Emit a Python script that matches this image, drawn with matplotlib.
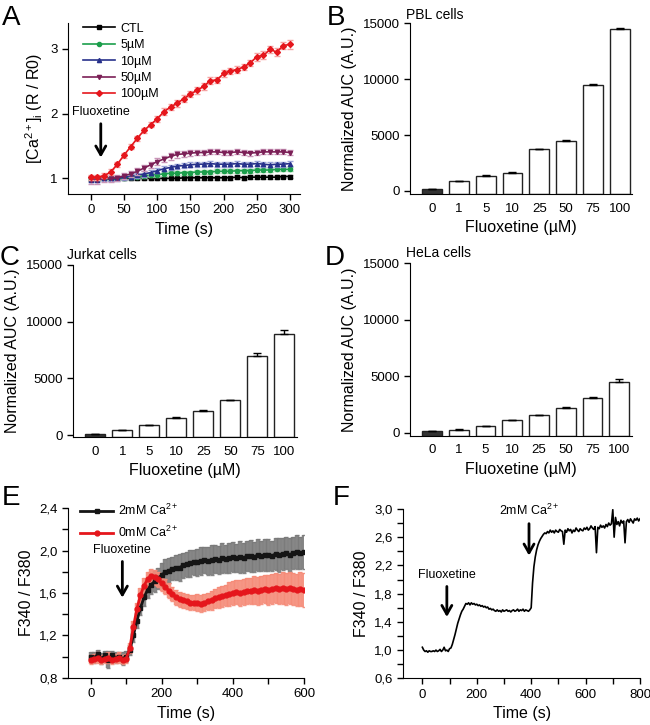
import numpy as np
import matplotlib
matplotlib.use("Agg")
import matplotlib.pyplot as plt

plt.rcParams['font.family'] = ['Liberation Sans', 'DejaVu Sans']
plt.rcParams['mathtext.fontset'] = 'custom'
plt.rcParams['mathtext.rm'] = 'Liberation Sans'
plt.rcParams['mathtext.it'] = 'Liberation Sans:italic'

# ---- panel A: time course per dose ----
t_a = list(range(0, 301, 10))
ctl = [0.99, 0.99, 1.00, 0.99, 1.00, 1.00, 1.00, 1.00, 1.00, 1.00, 1.00, 1.00, 1.00, 1.00, 1.01, 1.01,
       1.01, 1.01, 1.01, 1.01, 1.01, 1.01, 1.02, 1.01, 1.02, 1.02, 1.02, 1.02, 1.02, 1.03, 1.03]
d5 = [1.00, 0.99, 1.00, 1.00, 1.00, 1.01, 1.02, 1.03, 1.04, 1.05, 1.06, 1.07, 1.08, 1.08, 1.09, 1.09,
      1.10, 1.10, 1.10, 1.11, 1.11, 1.11, 1.12, 1.12, 1.12, 1.13, 1.13, 1.13, 1.14, 1.14, 1.14]
d10 = [0.98, 0.98, 1.00, 1.00, 1.00, 1.02, 1.03, 1.05, 1.07, 1.09, 1.12, 1.15, 1.17, 1.19, 1.20, 1.21,
       1.22, 1.22, 1.23, 1.22, 1.22, 1.22, 1.23, 1.22, 1.22, 1.23, 1.22, 1.21, 1.22, 1.22, 1.23]
d50 = [0.97, 0.97, 1.00, 1.00, 1.01, 1.04, 1.07, 1.11, 1.16, 1.21, 1.26, 1.30, 1.34, 1.37, 1.38, 1.39,
       1.40, 1.40, 1.41, 1.41, 1.40, 1.40, 1.41, 1.40, 1.39, 1.40, 1.41, 1.41, 1.41, 1.41, 1.40]
d100 = [1.02, 1.02, 1.04, 1.10, 1.22, 1.36, 1.49, 1.62, 1.74, 1.83, 1.92, 2.03, 2.10, 2.16, 2.23, 2.30,
        2.36, 2.42, 2.51, 2.52, 2.62, 2.66, 2.68, 2.72, 2.78, 2.88, 2.90, 2.99, 2.95, 3.05, 3.07]
err_ctl = [0.03] * 31
err_d5 = [0.03] * 31
err_d10 = [0.04] * 31
err_d50 = [0.06, 0.06, 0.06, 0.05, 0.05, 0.05, 0.05, 0.05, 0.05, 0.05, 0.05, 0.05, 0.05, 0.05, 0.05, 0.05,
           0.04, 0.04, 0.04, 0.04, 0.04, 0.04, 0.04, 0.04, 0.04, 0.04, 0.04, 0.04, 0.04, 0.04, 0.04]
err_d100 = [0.04, 0.04, 0.04, 0.04, 0.04, 0.04, 0.04, 0.04, 0.04, 0.04, 0.05, 0.05, 0.05, 0.05, 0.05, 0.05,
            0.05, 0.05, 0.05, 0.05, 0.05, 0.05, 0.05, 0.05, 0.05, 0.06, 0.06, 0.06, 0.06, 0.06, 0.07]

# ---- panels B-D: AUC bars ----
doses = ['0', '1', '5', '10', '25', '50', '75', '100']
auc_pbl = [150, 900, 1370, 1640, 3720, 4480, 9460, 14480]
err_pbl = [0, 20, 20, 20, 30, 40, 100, 90]
auc_jurkat = [130, 410, 890, 1510, 2130, 3050, 7010, 8900]
err_jurkat = [0, 20, 30, 40, 50, 70, 240, 330]
auc_hela = [130, 270, 590, 1100, 1540, 2220, 3050, 4480]
err_hela = [0, 20, 30, 40, 50, 70, 150, 240]

# ---- panel E: 2mM vs 0mM Ca2+ ----
t_e = list(range(0, 601, 10))
ca2 = [1.00, 0.99, 1.02, 0.98, 1.01, 0.97, 1.01, 0.99, 1.00, 0.98, 1.00, 1.06, 1.20, 1.34, 1.46, 1.56,
       1.63, 1.68, 1.71, 1.74, 1.77, 1.80, 1.81, 1.83, 1.84, 1.84, 1.86, 1.87, 1.88, 1.89, 1.89, 1.90,
       1.91, 1.90, 1.91, 1.92, 1.91, 1.93, 1.92, 1.93, 1.94, 1.93, 1.94, 1.93, 1.95, 1.95, 1.94, 1.96,
       1.95, 1.96, 1.96, 1.95, 1.97, 1.96, 1.97, 1.98, 1.96, 1.98, 1.99, 1.98, 1.99]
err_ca2 = [0.04, 0.05, 0.04, 0.05, 0.04, 0.08, 0.04, 0.05, 0.04, 0.06, 0.05, 0.05, 0.06, 0.07, 0.07, 0.08,
           0.08, 0.09, 0.10, 0.10, 0.11, 0.12, 0.12, 0.11, 0.12, 0.13, 0.12, 0.12, 0.13, 0.12, 0.13, 0.13,
           0.12, 0.13, 0.14, 0.13, 0.13, 0.14, 0.13, 0.14, 0.14, 0.13, 0.15, 0.14, 0.14, 0.15, 0.14, 0.15,
           0.14, 0.15, 0.15, 0.14, 0.15, 0.16, 0.15, 0.15, 0.16, 0.15, 0.16, 0.15, 0.16]
ca0 = [0.97, 0.98, 0.99, 0.97, 0.98, 0.99, 0.97, 0.98, 0.99, 0.97, 0.98, 1.08, 1.28, 1.45, 1.58, 1.67,
       1.73, 1.76, 1.75, 1.73, 1.69, 1.66, 1.62, 1.59, 1.56, 1.54, 1.53, 1.52, 1.51, 1.51, 1.51, 1.50,
       1.51, 1.52, 1.53, 1.55, 1.56, 1.57, 1.58, 1.59, 1.60, 1.61, 1.60, 1.61, 1.62, 1.62, 1.63, 1.62,
       1.63, 1.64, 1.63, 1.64, 1.65, 1.64, 1.65, 1.64, 1.65, 1.64, 1.63, 1.64, 1.63]
err_ca0 = [0.04, 0.04, 0.05, 0.04, 0.04, 0.05, 0.04, 0.04, 0.05, 0.04, 0.04, 0.05, 0.06, 0.06, 0.07, 0.07,
           0.07, 0.07, 0.07, 0.07, 0.07, 0.07, 0.07, 0.07, 0.07, 0.07, 0.07, 0.07, 0.07, 0.07, 0.08, 0.08,
           0.08, 0.08, 0.09, 0.09, 0.10, 0.10, 0.10, 0.11, 0.11, 0.11, 0.12, 0.12, 0.12, 0.12, 0.13, 0.13,
           0.13, 0.13, 0.14, 0.14, 0.14, 0.14, 0.15, 0.15, 0.15, 0.15, 0.15, 0.16, 0.16]

# ---- panel F: single trace ----
t_f = list(range(0, 801, 5))
ratio_f = [1.04, 1.00, 0.98, 0.99, 0.97, 0.99, 0.98, 0.98, 0.99, 0.98, 1.00, 0.98, 0.99, 1.01, 0.98, 1.00,
           1.04, 0.99, 1.00, 0.98, 1.02,
           1.03, 1.08, 1.15, 1.22, 1.30, 1.38, 1.44, 1.50, 1.55, 1.58, 1.62, 1.66, 1.65, 1.67, 1.64, 1.67,
           1.65, 1.66, 1.64,
           1.65, 1.63, 1.64, 1.62, 1.63, 1.61, 1.62, 1.60, 1.61, 1.58, 1.59, 1.57, 1.58, 1.56, 1.55, 1.57,
           1.55, 1.56, 1.54, 1.57, 1.55, 1.56, 1.57, 1.55, 1.56, 1.54, 1.56, 1.57, 1.55, 1.56, 1.58, 1.55,
           1.57, 1.56, 1.58, 1.55, 1.57, 1.56, 1.55, 1.57,
           1.60, 1.95, 2.18, 2.32, 2.42, 2.49, 2.54, 2.58, 2.61, 2.64, 2.66, 2.65, 2.68, 2.66, 2.70, 2.67,
           2.69, 2.66, 2.70, 2.68, 2.67, 2.71, 2.69, 2.68, 2.50, 2.70, 2.67, 2.72, 2.69, 2.71, 2.66, 2.70,
           2.68, 2.73, 2.70, 2.68, 2.72, 2.70, 2.69, 2.73,
           2.71, 2.74, 2.70, 2.72, 2.76, 2.73, 2.71, 2.75, 2.38, 2.74, 2.72, 2.77, 2.74, 2.76, 2.73, 2.78,
           2.75, 2.80, 2.77, 2.79,
           2.99, 2.60, 2.88, 2.78, 2.82, 2.76, 2.84, 2.80, 2.83, 2.52, 2.82, 2.85, 2.81, 2.86, 2.83, 2.80,
           2.86, 2.84, 2.87, 2.83, 2.86]

TICK = 9.5
LAB = 11.5
ARROW = dict(arrowstyle='->,head_length=0.7,head_width=0.4', lw=2, color='black')


def style(ax):
    ax.spines['top'].set_visible(False)
    ax.spines['right'].set_visible(False)
    ax.tick_params(direction='out', length=4, width=1, labelsize=TICK)


fig = plt.figure(figsize=(6.5, 7.25), dpi=100)

# A
ax = fig.add_axes([0.105, 0.7324, 0.3565, 0.236])
series = [
    ('CTL', ctl, err_ctl, 'black', '#9a9a9a', 's'),
    ('5µM', d5, err_d5, '#1b9e4b', '#8fd19e', 'o'),
    ('10µM', d10, err_d10, '#27318b', '#9aa3d6', '^'),
    ('50µM', d50, err_d50, '#7b1f56', '#c995b8', 'v'),
    ('100µM', d100, err_d100, '#e5161c', '#f5a3a3', 'D'),
]
for lab, y, e, c, ec, m in series:
    ax.errorbar(t_a, y, yerr=e, fmt='none', ecolor=ec, elinewidth=0.8, capsize=2)
    ax.plot(t_a, y, color=c, marker=m, ms=3, lw=1.2, label=lab)
ax.set_xlim(-34, 315)
ax.set_ylim(0.76, 3.4)
ax.set_xticks(range(0, 301, 50))
ax.set_yticks([1, 2, 3])
ax.set_xlabel('Time (s)', fontsize=LAB)
ax.set_ylabel(r'[Ca$^{2+}$]$_\mathregular{i}$ (R / R0)', fontsize=LAB)
ax.legend(loc='upper left', bbox_to_anchor=(0.04, 1.03), frameon=False, fontsize=9,
          handlelength=2.6, labelspacing=0.35, handletextpad=0.4, borderaxespad=0)
ax.annotate('Fluoxetine', xy=(15, 1.28), xytext=(15, 1.93), fontsize=9, ha='center', va='bottom',
            arrowprops=ARROW)
style(ax)


def bars(pos, vals, errs, title, ymin):
    ax = fig.add_axes(pos)
    x = np.arange(len(doses))
    heights = [v - ymin for v in vals]
    colors = ['#333333'] + ['white'] * (len(vals) - 1)
    ax.bar(x, heights, bottom=ymin, width=0.74, color=colors, edgecolor='#222222', linewidth=1)
    ax.errorbar(x, vals, yerr=[[0] * len(errs), errs], fmt='none', ecolor='black', elinewidth=1, capsize=3)
    ax.set_xlim(-0.82, 7.46)
    ax.set_ylim(ymin, 15000)
    ax.set_yticks([0, 5000, 10000, 15000])
    ax.set_xticks(x)
    ax.set_xticklabels(doses)
    ax.set_xlabel('Fluoxetine (µM)', fontsize=LAB)
    ax.set_ylabel('Normalized AUC (A.U.)', fontsize=LAB)
    style(ax)
    ax.tick_params(axis='x', length=0, pad=6)
    ax.text(0.0, 1.05, title, transform=ax.transAxes, fontsize=10, va='center', ha='left')
    return ax


axb = bars([0.6308, 0.732, 0.3415, 0.2357], auc_pbl, err_pbl, 'PBL cells', -300)
axb.texts[-1].set_position((-0.02, 1.05))
axc = bars([0.1128, 0.3968, 0.3437, 0.2377], auc_jurkat, err_jurkat, 'Jurkat cells', -200)
axc.texts[-1].set_position((-0.03, 1.06))
axd = bars([0.6308, 0.3986, 0.341, 0.2382], auc_hela, err_hela, 'HeLa cells', -300)
axd.texts[-1].set_position((-0.02, 1.06))

# E
ax = fig.add_axes([0.1051, 0.0652, 0.3626, 0.2337])
ax.errorbar(t_e, ca2, yerr=err_ca2, fmt='none', ecolor='#7a7a7a', elinewidth=3.2, capsize=1.5, alpha=0.9)
ax.errorbar(t_e, ca0, yerr=err_ca0, fmt='none', ecolor='#f58b78', elinewidth=3.2, capsize=1.5, alpha=0.9)
ax.plot(t_e, ca2, color='#151515', marker='s', ms=3.5, lw=2, label='2mM Ca$^{2+}$')
ax.plot(t_e, ca0, color='#e5161c', marker='o', ms=3.5, lw=2, label='0mM Ca$^{2+}$')
ax.set_xlim(-63, 600)
ax.set_ylim(0.8, 2.4)
ax.set_xticks(range(0, 601, 100))
ax.set_xticklabels(['0', '', '200', '', '400', '', '600'])
ax.set_yticks(np.arange(0.8, 2.41, 0.2))
ax.set_yticklabels(['0,8', '', '1,2', '', '1,6', '', '2,0', '', '2,4'])
ax.set_xlabel('Time (s)', fontsize=LAB)
ax.set_ylabel('F340 / F380', fontsize=LAB)
ax.legend(loc='upper left', bbox_to_anchor=(0.03, 1.06), frameon=False, fontsize=9,
          handlelength=2.6, labelspacing=0.55, handletextpad=0.4, borderaxespad=0)
ax.annotate('Fluoxetine', xy=(89, 1.53), xytext=(89, 1.95), fontsize=9, ha='center', va='bottom',
            arrowprops=ARROW)
style(ax)

# F
ax = fig.add_axes([0.6205, 0.0644, 0.3641, 0.2336])
ax.plot(t_f, ratio_f, color='black', lw=1.2)
ax.set_xlim(-70, 800)
ax.set_ylim(0.6, 3.0)
ax.set_xticks(range(0, 801, 100))
ax.set_xticklabels(['0', '', '200', '', '400', '', '600', '', '800'])
ax.set_yticks(np.arange(0.6, 3.01, 0.2))
ax.set_yticklabels(['0,6', '', '1,0', '', '1,4', '', '1,8', '', '2,2', '', '2,6', '', '3,0'])
ax.set_xlabel('Time (s)', fontsize=LAB)
ax.set_ylabel('F340 / F380', fontsize=LAB)
ax.annotate('Fluoxetine', xy=(90, 1.43), xytext=(90, 1.98), fontsize=9, ha='center', va='bottom',
            arrowprops=ARROW)
ax.annotate('2mM Ca$^{2+}$', xy=(392, 2.30), xytext=(392, 2.87), fontsize=9, ha='center', va='bottom',
            arrowprops=ARROW)
style(ax)

# panel letters
for lx, ly, s in [(0.003, 0.993, 'A'), (0.503, 0.993, 'B'), (0.0, 0.662, 'C'),
                  (0.5, 0.662, 'D'), (0.003, 0.331, 'E'), (0.512, 0.331, 'F')]:
    fig.text(lx, ly, s, fontsize=20, va='top', ha='left')

fig.savefig('out.png', dpi=100)
